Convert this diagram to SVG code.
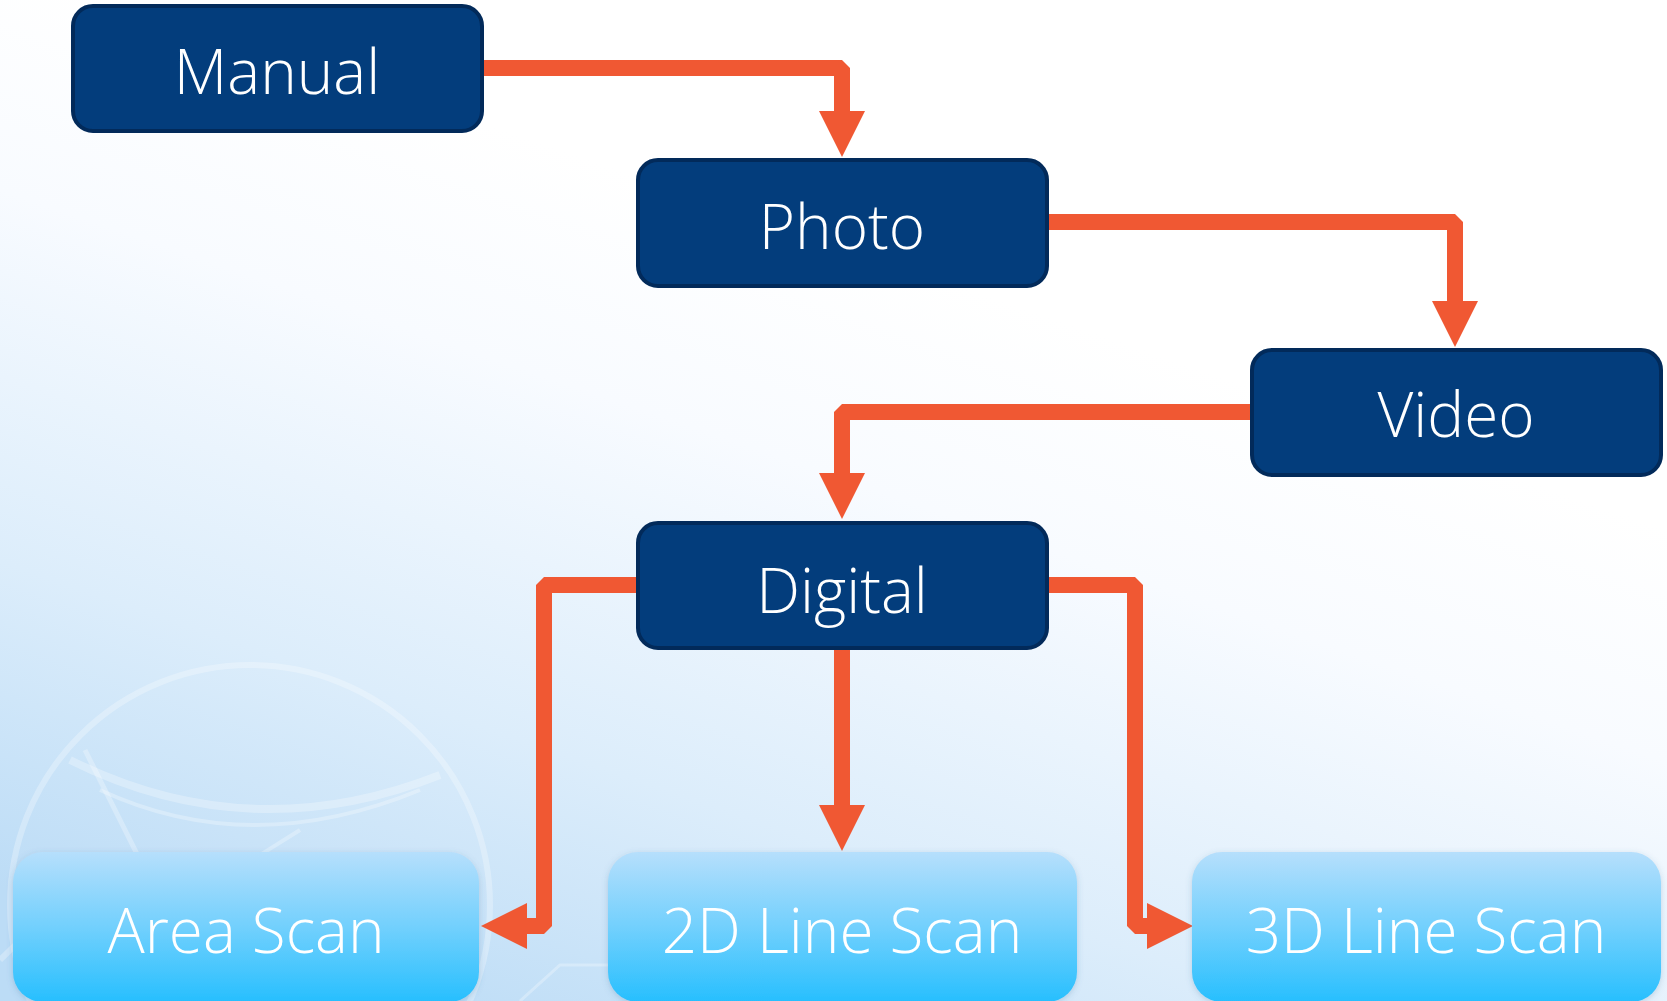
<svg xmlns="http://www.w3.org/2000/svg" width="1667" height="1001" viewBox="0 0 1667 1001">
  <defs>
    <linearGradient id="bg" x1="0.6" y1="0.3" x2="0.2" y2="1">
      <stop offset="0" stop-color="#ffffff"/>
      <stop offset="0.25" stop-color="#f8fbff"/>
      <stop offset="0.65" stop-color="#dcedfb"/>
      <stop offset="1" stop-color="#bcdcf6"/>
    </linearGradient>
    <linearGradient id="lightFill" x1="0" y1="0" x2="0" y2="1">
      <stop offset="0" stop-color="#b6dffc"/>
      <stop offset="0.5" stop-color="#72d0fd"/>
      <stop offset="1" stop-color="#27bffe"/>
    </linearGradient>
    <filter id="soft" x="-10%" y="-10%" width="120%" height="130%">
      <feDropShadow dx="0" dy="2" stdDeviation="3" flood-color="#3a6f99" flood-opacity="0.25"/>
    </filter>
    <marker id="arrow" viewBox="0 0 46 46" refX="0" refY="23" markerWidth="46" markerHeight="46" markerUnits="userSpaceOnUse" orient="auto">
      <path d="M0,0 L46,23 L0,46 Z" fill="#f05833"/>
    </marker>
    <style>
      .dark rect { fill: #033d7c; stroke: #022a5a; stroke-width: 4; }
      .light rect { fill: url(#lightFill); filter: url(#soft); }
      .label { font-family: "Open Sans", "Noto Sans", "Liberation Sans", sans-serif; font-size: 62px; font-weight: 360; fill: #ffffff; text-anchor: middle; }
      .conn { fill: none; stroke: #f05833; stroke-width: 16; stroke-linejoin: bevel; stroke-linecap: butt; marker-end: url(#arrow); }
      .deco { fill: none; stroke: #ffffff; stroke-opacity: 0.28; }
    </style>
  </defs>

  <!-- backdrop -->
  <rect x="0" y="0" width="1667" height="1001" fill="url(#bg)"/>
  <g id="backdrop-ornament">
    <circle class="deco" cx="250" cy="905" r="240" stroke-width="6"/>
    <path class="deco" d="M70,760 Q250,850 440,775" stroke-width="8"/>
    <path class="deco" d="M100,790 Q250,860 420,790" stroke-width="4"/>
    <path class="deco" d="M85,750 L140,860" stroke-width="5"/>
    <path class="deco" d="M300,830 L220,880" stroke-width="4"/>
    <path class="deco" d="M0,960 Q40,920 70,900" stroke-width="6"/>
    <path class="deco" d="M520,1001 L560,965 L700,965" stroke-width="3"/>
  </g>

  <!-- connectors -->
  <g id="connectors">
    <polyline class="conn" points="482,68 842,68 842,111"/>
    <polyline class="conn" points="1047,222 1455,222 1455,301"/>
    <polyline class="conn" points="1251,412 842,412 842,473"/>
    <polyline class="conn" points="842,647 842,805"/>
    <polyline class="conn" points="637,585 544,585 544,926 527,926"/>
    <polyline class="conn" points="1047,585 1135,585 1135,926 1147,926"/>
  </g>

  <!-- stages -->
  <g id="manual" class="dark">
    <rect x="73" y="6" width="409" height="125" rx="20"/>
    <text class="label" x="277" y="94">Manual</text>
  </g>
  <g id="photo" class="dark">
    <rect x="638" y="160" width="409" height="126" rx="20"/>
    <text class="label" x="842" y="249">Photo</text>
  </g>
  <g id="video" class="dark">
    <rect x="1252" y="350" width="409" height="125" rx="20"/>
    <text class="label" x="1456" y="437">Video</text>
  </g>
  <g id="digital" class="dark">
    <rect x="638" y="523" width="409" height="125" rx="20"/>
    <text class="label" x="842" y="613">Digital</text>
  </g>

  <!-- scan types -->
  <g id="area-scan" class="light">
    <rect x="13" y="852" width="466" height="150" rx="30"/>
    <text class="label" x="246" y="953">Area Scan</text>
  </g>
  <g id="line-scan-2d" class="light">
    <rect x="608" y="852" width="469" height="150" rx="30"/>
    <text class="label" x="842" y="953">2D Line Scan</text>
  </g>
  <g id="line-scan-3d" class="light">
    <rect x="1192" y="852" width="469" height="150" rx="30"/>
    <text class="label" x="1426" y="953">3D Line Scan</text>
  </g>
</svg>
